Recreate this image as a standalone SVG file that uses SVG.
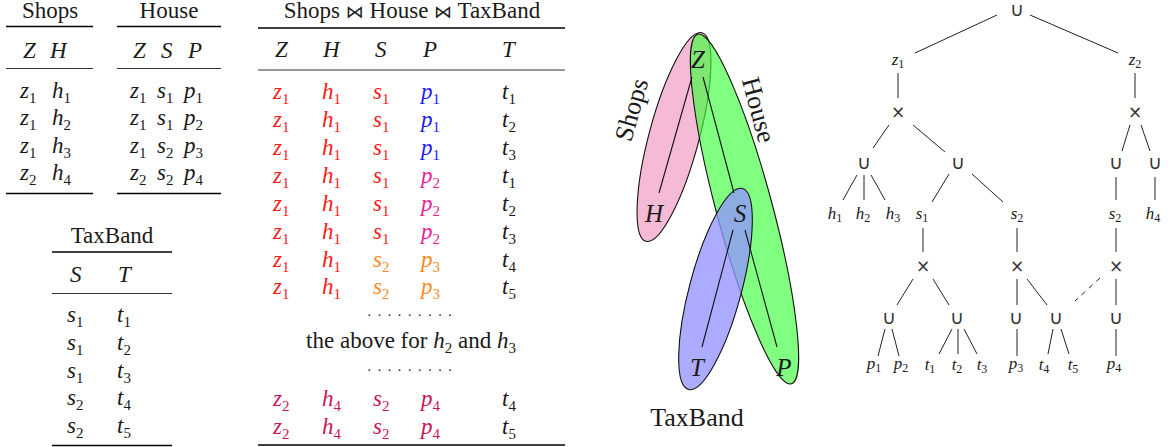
<svg xmlns="http://www.w3.org/2000/svg" width="1173" height="447" viewBox="0 0 1173 447">
<style>
svg{background:#fff}
text.tb{font-family:"Liberation Serif","DejaVu Serif",serif;font-size:23px;fill:#1a1a1a}
text.i,tspan.i{font-style:italic}
tspan.s{font-size:15px;font-style:normal}
tspan.bt{font-family:"DejaVu Sans",sans-serif;font-size:18px}
text.dots{font-size:14px;letter-spacing:6.6px}
.thick{stroke:#000;stroke-width:1.7}
.thin{stroke:#333;stroke-width:1}
text.red{fill:#ff1a1a}text.blu{fill:#1a1aff}text.mag{fill:#ee1e96}text.org{fill:#fa8a23}text.crm{fill:#c8145a}
text.hl{font-family:"Liberation Serif","DejaVu Serif",serif;font-size:26px;fill:#1a1a1a}
text.hv{font-family:"Liberation Serif","DejaVu Serif",serif;font-size:25px;font-style:italic;fill:#1a1a1a}
text.tr{font-family:"Liberation Serif","DejaVu Serif",serif;font-size:17px;font-style:italic;fill:#1a1a1a}
tspan.ts{font-size:12px;font-style:normal}
text.op{font-family:"DejaVu Sans",sans-serif;font-size:19px;fill:#333}
text.ox{font-family:"DejaVu Sans",sans-serif;font-size:17px;fill:#333}
.e{stroke:#222;stroke-width:1;fill:none}
.hy{stroke:#111;stroke-width:1.1}
</style>

<!-- Shops relation -->
<g id="shops-rel">
<text class="tb" x="50" y="18" text-anchor="middle">Shops</text>
<line class="thick" x1="6" y1="26.5" x2="93" y2="26.5"/>
<text class="tb i" x="23" y="58">Z</text><text class="tb i" x="50" y="58">H</text>
<line class="thin" x1="6" y1="68.5" x2="93" y2="68.5"/>
<text class="tb i" x="20" y="98">z<tspan class="s" dy="5">1</tspan></text><text class="tb i" x="52" y="98">h<tspan class="s" dy="5">1</tspan></text>
<text class="tb i" x="20" y="125">z<tspan class="s" dy="5">1</tspan></text><text class="tb i" x="52" y="125">h<tspan class="s" dy="5">2</tspan></text>
<text class="tb i" x="20" y="153">z<tspan class="s" dy="5">1</tspan></text><text class="tb i" x="52" y="153">h<tspan class="s" dy="5">3</tspan></text>
<text class="tb i" x="20" y="180">z<tspan class="s" dy="5">2</tspan></text><text class="tb i" x="52" y="180">h<tspan class="s" dy="5">4</tspan></text>
<line class="thick" x1="6" y1="193.5" x2="93" y2="193.5"/>
</g>

<!-- House relation -->
<g id="house-rel">
<text class="tb" x="169" y="18" text-anchor="middle">House</text>
<line class="thick" x1="117" y1="26.5" x2="221" y2="26.5"/>
<text class="tb i" x="133" y="58">Z</text><text class="tb i" x="161" y="58">S</text><text class="tb i" x="188" y="58">P</text>
<line class="thin" x1="117" y1="68.5" x2="221" y2="68.5"/>
<text class="tb i" x="130" y="98">z<tspan class="s" dy="5">1</tspan></text><text class="tb i" x="157" y="98">s<tspan class="s" dy="5">1</tspan></text><text class="tb i" x="184" y="98">p<tspan class="s" dy="5">1</tspan></text>
<text class="tb i" x="130" y="125">z<tspan class="s" dy="5">1</tspan></text><text class="tb i" x="157" y="125">s<tspan class="s" dy="5">1</tspan></text><text class="tb i" x="184" y="125">p<tspan class="s" dy="5">2</tspan></text>
<text class="tb i" x="130" y="153">z<tspan class="s" dy="5">1</tspan></text><text class="tb i" x="157" y="153">s<tspan class="s" dy="5">2</tspan></text><text class="tb i" x="184" y="153">p<tspan class="s" dy="5">3</tspan></text>
<text class="tb i" x="130" y="180">z<tspan class="s" dy="5">2</tspan></text><text class="tb i" x="157" y="180">s<tspan class="s" dy="5">2</tspan></text><text class="tb i" x="184" y="180">p<tspan class="s" dy="5">4</tspan></text>
<line class="thick" x1="117" y1="193.5" x2="221" y2="193.5"/>
</g>

<!-- TaxBand relation -->
<g id="taxband-rel">
<text class="tb" x="112" y="243" text-anchor="middle">TaxBand</text>
<line class="thick" x1="52" y1="252" x2="172" y2="252"/>
<text class="tb i" x="70" y="282">S</text><text class="tb i" x="118" y="282">T</text>
<line class="thin" x1="52" y1="293.5" x2="172" y2="293.5"/>
<text class="tb i" x="67" y="322">s<tspan class="s" dy="5">1</tspan></text><text class="tb i" x="117" y="322">t<tspan class="s" dy="5">1</tspan></text>
<text class="tb i" x="67" y="350">s<tspan class="s" dy="5">1</tspan></text><text class="tb i" x="117" y="350">t<tspan class="s" dy="5">2</tspan></text>
<text class="tb i" x="67" y="378">s<tspan class="s" dy="5">1</tspan></text><text class="tb i" x="117" y="378">t<tspan class="s" dy="5">3</tspan></text>
<text class="tb i" x="67" y="405">s<tspan class="s" dy="5">2</tspan></text><text class="tb i" x="117" y="405">t<tspan class="s" dy="5">4</tspan></text>
<text class="tb i" x="67" y="433">s<tspan class="s" dy="5">2</tspan></text><text class="tb i" x="117" y="433">t<tspan class="s" dy="5">5</tspan></text>
<line class="thick" x1="52" y1="445.5" x2="172" y2="445.5"/>
</g>

<!-- Join relation -->
<g id="join-rel">
<text class="tb" x="412" y="18" text-anchor="middle">Shops <tspan class="bt">⋈</tspan> House <tspan class="bt">⋈</tspan> TaxBand</text>
<line class="thick" x1="258" y1="28" x2="565" y2="28"/>
<text class="tb i" x="275" y="57">Z</text><text class="tb i" x="323" y="57">H</text><text class="tb i" x="375" y="57">S</text><text class="tb i" x="423" y="57">P</text><text class="tb i" x="502" y="57">T</text>
<line class="thin" x1="258" y1="70" x2="565" y2="70"/>

<text class="tb i red" x="273" y="99">z<tspan class="s" dy="5">1</tspan></text><text class="tb i red" x="322" y="99">h<tspan class="s" dy="5">1</tspan></text><text class="tb i red" x="373" y="99">s<tspan class="s" dy="5">1</tspan></text><text class="tb i blu" x="421" y="99">p<tspan class="s" dy="5">1</tspan></text><text class="tb i" x="502" y="99">t<tspan class="s" dy="5">1</tspan></text>
<text class="tb i red" x="273" y="127">z<tspan class="s" dy="5">1</tspan></text><text class="tb i red" x="322" y="127">h<tspan class="s" dy="5">1</tspan></text><text class="tb i red" x="373" y="127">s<tspan class="s" dy="5">1</tspan></text><text class="tb i blu" x="421" y="127">p<tspan class="s" dy="5">1</tspan></text><text class="tb i" x="502" y="127">t<tspan class="s" dy="5">2</tspan></text>
<text class="tb i red" x="273" y="155">z<tspan class="s" dy="5">1</tspan></text><text class="tb i red" x="322" y="155">h<tspan class="s" dy="5">1</tspan></text><text class="tb i red" x="373" y="155">s<tspan class="s" dy="5">1</tspan></text><text class="tb i blu" x="421" y="155">p<tspan class="s" dy="5">1</tspan></text><text class="tb i" x="502" y="155">t<tspan class="s" dy="5">3</tspan></text>
<text class="tb i red" x="273" y="183">z<tspan class="s" dy="5">1</tspan></text><text class="tb i red" x="322" y="183">h<tspan class="s" dy="5">1</tspan></text><text class="tb i red" x="373" y="183">s<tspan class="s" dy="5">1</tspan></text><text class="tb i mag" x="421" y="183">p<tspan class="s" dy="5">2</tspan></text><text class="tb i" x="502" y="183">t<tspan class="s" dy="5">1</tspan></text>
<text class="tb i red" x="273" y="211">z<tspan class="s" dy="5">1</tspan></text><text class="tb i red" x="322" y="211">h<tspan class="s" dy="5">1</tspan></text><text class="tb i red" x="373" y="211">s<tspan class="s" dy="5">1</tspan></text><text class="tb i mag" x="421" y="211">p<tspan class="s" dy="5">2</tspan></text><text class="tb i" x="502" y="211">t<tspan class="s" dy="5">2</tspan></text>
<text class="tb i red" x="273" y="239">z<tspan class="s" dy="5">1</tspan></text><text class="tb i red" x="322" y="239">h<tspan class="s" dy="5">1</tspan></text><text class="tb i red" x="373" y="239">s<tspan class="s" dy="5">1</tspan></text><text class="tb i mag" x="421" y="239">p<tspan class="s" dy="5">2</tspan></text><text class="tb i" x="502" y="239">t<tspan class="s" dy="5">3</tspan></text>
<text class="tb i red" x="273" y="267">z<tspan class="s" dy="5">1</tspan></text><text class="tb i red" x="322" y="267">h<tspan class="s" dy="5">1</tspan></text><text class="tb i org" x="373" y="267">s<tspan class="s" dy="5">2</tspan></text><text class="tb i org" x="421" y="267">p<tspan class="s" dy="5">3</tspan></text><text class="tb i" x="502" y="267">t<tspan class="s" dy="5">4</tspan></text>
<text class="tb i red" x="273" y="294">z<tspan class="s" dy="5">1</tspan></text><text class="tb i red" x="322" y="294">h<tspan class="s" dy="5">1</tspan></text><text class="tb i org" x="373" y="294">s<tspan class="s" dy="5">2</tspan></text><text class="tb i org" x="421" y="294">p<tspan class="s" dy="5">3</tspan></text><text class="tb i" x="502" y="294">t<tspan class="s" dy="5">5</tspan></text>

<text class="tb dots" x="413" y="316" text-anchor="middle">.........</text>
<text class="tb" x="411" y="348" text-anchor="middle">the above for <tspan class="i">h</tspan><tspan class="s" dy="5">2</tspan><tspan dy="-5"> and </tspan><tspan class="i">h</tspan><tspan class="s" dy="5">3</tspan></text>
<text class="tb dots" x="413" y="371" text-anchor="middle">.........</text>

<text class="tb i crm" x="273" y="406">z<tspan class="s" dy="5">2</tspan></text><text class="tb i crm" x="322" y="406">h<tspan class="s" dy="5">4</tspan></text><text class="tb i crm" x="373" y="406">s<tspan class="s" dy="5">2</tspan></text><text class="tb i crm" x="421" y="406">p<tspan class="s" dy="5">4</tspan></text><text class="tb i" x="502" y="406">t<tspan class="s" dy="5">4</tspan></text>
<text class="tb i crm" x="273" y="434">z<tspan class="s" dy="5">2</tspan></text><text class="tb i crm" x="322" y="434">h<tspan class="s" dy="5">4</tspan></text><text class="tb i crm" x="373" y="434">s<tspan class="s" dy="5">2</tspan></text><text class="tb i crm" x="421" y="434">p<tspan class="s" dy="5">4</tspan></text><text class="tb i" x="502" y="434">t<tspan class="s" dy="5">5</tspan></text>
<line class="thick" x1="258" y1="445" x2="565" y2="445"/>
</g>

<!-- Hypergraph -->
<g id="hyperedge-shops">
<ellipse cx="674" cy="137" rx="25" ry="108" transform="rotate(15 674 137)" fill="#f5bad5" stroke="#111" stroke-width="1.1"/>
<text class="hl" transform="translate(632,110) rotate(-74)" x="0" y="8" text-anchor="middle">Shops</text>
</g>
<g id="hyperedge-house">
<ellipse cx="744.5" cy="209" rx="28" ry="181" transform="rotate(-15 744.5 209)" fill="#3cff3c" fill-opacity="0.65" stroke="#111" stroke-width="1.1"/>
<text class="hl" transform="translate(758,110) rotate(75)" x="0" y="8" text-anchor="middle">House</text>
</g>
<g id="hyperedge-taxband">
<ellipse cx="715.5" cy="289" rx="26" ry="104" transform="rotate(15 715.5 289)" fill="#9393ff" fill-opacity="0.78" stroke="#111" stroke-width="1.1"/>
<text class="hl" x="697" y="426" text-anchor="middle">TaxBand</text>
</g>
<g id="hypergraph-edges">
<line class="hy" x1="692" y1="77" x2="659" y2="193"/>
<line class="hy" x1="703" y1="77" x2="734" y2="193"/>
<line class="hy" x1="733" y1="230" x2="702" y2="347"/>
<line class="hy" x1="745" y1="230" x2="777" y2="347"/>
</g>
<g id="v-Z"><text class="hv" x="698" y="68" text-anchor="middle">Z</text></g>
<g id="v-H"><text class="hv" x="654" y="222" text-anchor="middle">H</text></g>
<g id="v-S"><text class="hv" x="740" y="222" text-anchor="middle">S</text></g>
<g id="v-T"><text class="hv" x="697" y="376" text-anchor="middle">T</text></g>
<g id="v-P"><text class="hv" x="784" y="376" text-anchor="middle">P</text></g>

<!-- Tree connectors -->
<g id="tree-connectors" class="e">
<line x1="997" y1="15" x2="915" y2="53"/>
<line x1="1030" y1="15" x2="1118" y2="53"/>
<line x1="898" y1="73" x2="898" y2="98"/>
<line x1="1135" y1="73" x2="1135" y2="98"/>
<line x1="889" y1="125" x2="873" y2="148"/>
<line x1="913" y1="125" x2="945" y2="152"/>
<line x1="1130" y1="125" x2="1122" y2="151"/>
<line x1="1141" y1="125" x2="1150" y2="151"/>
<line x1="857" y1="175" x2="843" y2="200"/>
<line x1="864" y1="175" x2="864" y2="200"/>
<line x1="871" y1="175" x2="885" y2="200"/>
<line x1="949" y1="174" x2="932" y2="202"/>
<line x1="972" y1="174" x2="1003" y2="202"/>
<line x1="1116" y1="177" x2="1116" y2="200"/>
<line x1="1155" y1="177" x2="1155" y2="200"/>
<line x1="923" y1="228" x2="923" y2="252"/>
<line x1="1017" y1="228" x2="1017" y2="252"/>
<line x1="1116" y1="228" x2="1116" y2="252"/>
<line x1="913" y1="279" x2="897" y2="305"/>
<line x1="933" y1="279" x2="949" y2="305"/>
<line x1="1017" y1="279" x2="1017" y2="305"/>
<line x1="1027" y1="279" x2="1047" y2="305"/>
<line x1="1100" y1="278" x2="1075" y2="301" stroke-dasharray="5,5"/>
<line x1="1116" y1="279" x2="1116" y2="305"/>
<line x1="885" y1="329" x2="878" y2="356"/>
<line x1="892" y1="329" x2="899" y2="356"/>
<line x1="952" y1="329" x2="939" y2="354"/>
<line x1="958" y1="329" x2="958" y2="354"/>
<line x1="964" y1="329" x2="977" y2="354"/>
<line x1="1017" y1="329" x2="1017" y2="356"/>
<line x1="1053" y1="329" x2="1048" y2="354"/>
<line x1="1061" y1="329" x2="1069" y2="354"/>
<line x1="1116" y1="329" x2="1116" y2="356"/>
</g>

<!-- Tree nodes -->
<g id="n-root"><text class="op" x="1017" y="16" text-anchor="middle">∪</text></g>
<g id="n-z1"><text class="tr" x="898" y="65" text-anchor="middle">z<tspan class="ts" dy="3">1</tspan></text></g>
<g id="n-z2"><text class="tr" x="1135" y="65" text-anchor="middle">z<tspan class="ts" dy="3">2</tspan></text></g>
<g id="n-x1"><text class="ox" x="898" y="118" text-anchor="middle">×</text></g>
<g id="n-x2"><text class="ox" x="1135" y="118" text-anchor="middle">×</text></g>
<g id="n-u1"><text class="op" x="864" y="169" text-anchor="middle">∪</text></g>
<g id="n-u2"><text class="op" x="958" y="169" text-anchor="middle">∪</text></g>
<g id="n-u3"><text class="op" x="1116" y="169" text-anchor="middle">∪</text></g>
<g id="n-u4"><text class="op" x="1155" y="169" text-anchor="middle">∪</text></g>
<g id="n-h1"><text class="tr" x="835" y="219" text-anchor="middle">h<tspan class="ts" dy="3">1</tspan></text></g>
<g id="n-h2"><text class="tr" x="863" y="219" text-anchor="middle">h<tspan class="ts" dy="3">2</tspan></text></g>
<g id="n-h3"><text class="tr" x="893" y="219" text-anchor="middle">h<tspan class="ts" dy="3">3</tspan></text></g>
<g id="n-s1"><text class="tr" x="922" y="219" text-anchor="middle">s<tspan class="ts" dy="3">1</tspan></text></g>
<g id="n-s2a"><text class="tr" x="1017" y="219" text-anchor="middle">s<tspan class="ts" dy="3">2</tspan></text></g>
<g id="n-s2b"><text class="tr" x="1115" y="219" text-anchor="middle">s<tspan class="ts" dy="3">2</tspan></text></g>
<g id="n-h4"><text class="tr" x="1153" y="219" text-anchor="middle">h<tspan class="ts" dy="3">4</tspan></text></g>
<g id="n-x3"><text class="ox" x="923" y="272" text-anchor="middle">×</text></g>
<g id="n-x4"><text class="ox" x="1017" y="272" text-anchor="middle">×</text></g>
<g id="n-x5"><text class="ox" x="1116" y="272" text-anchor="middle">×</text></g>
<g id="n-u5"><text class="op" x="889" y="324" text-anchor="middle">∪</text></g>
<g id="n-u6"><text class="op" x="957" y="324" text-anchor="middle">∪</text></g>
<g id="n-u7"><text class="op" x="1016" y="324" text-anchor="middle">∪</text></g>
<g id="n-u8"><text class="op" x="1056" y="324" text-anchor="middle">∪</text></g>
<g id="n-u9"><text class="op" x="1116" y="324" text-anchor="middle">∪</text></g>
<g id="n-p1"><text class="tr" x="874" y="369" text-anchor="middle">p<tspan class="ts" dy="3">1</tspan></text></g>
<g id="n-p2"><text class="tr" x="901" y="369" text-anchor="middle">p<tspan class="ts" dy="3">2</tspan></text></g>
<g id="n-t1"><text class="tr" x="930" y="370" text-anchor="middle">t<tspan class="ts" dy="3">1</tspan></text></g>
<g id="n-t2"><text class="tr" x="957" y="370" text-anchor="middle">t<tspan class="ts" dy="3">2</tspan></text></g>
<g id="n-t3"><text class="tr" x="982" y="370" text-anchor="middle">t<tspan class="ts" dy="3">3</tspan></text></g>
<g id="n-p3"><text class="tr" x="1016" y="369" text-anchor="middle">p<tspan class="ts" dy="3">3</tspan></text></g>
<g id="n-t4"><text class="tr" x="1044" y="370" text-anchor="middle">t<tspan class="ts" dy="3">4</tspan></text></g>
<g id="n-t5"><text class="tr" x="1073" y="370" text-anchor="middle">t<tspan class="ts" dy="3">5</tspan></text></g>
<g id="n-p4"><text class="tr" x="1114" y="369" text-anchor="middle">p<tspan class="ts" dy="3">4</tspan></text></g>
</svg>
